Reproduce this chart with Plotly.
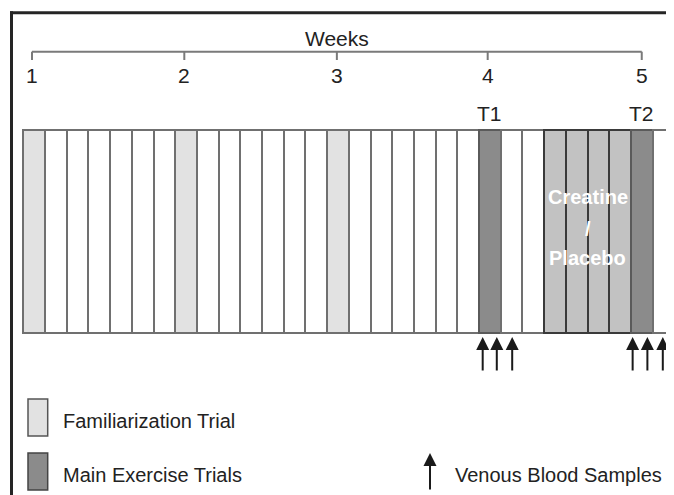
import plotly.graph_objects as go

# ---------------- data ----------------
day_types = ['F', 'R', 'R', 'R', 'R', 'R', 'R',
             'F', 'R', 'R', 'R', 'R', 'R', 'R',
             'F', 'R', 'R', 'R', 'R', 'R', 'R',
             'M', 'R', 'R', 'S', 'S', 'S', 'S',
             'M', 'R']
day_index = list(range(len(day_types)))
week_labels = ['1', '2', '3', '4', '5']
week_days = [0.4, 7.42, 14.45, 21.4, 28.5]
trial_labels = ['T1', 'T2']
trial_days = [21.5, 28.5]
sample_days = [21.17, 21.82, 22.53, 28.08, 28.76, 29.47]
supplement_span = [24, 28]
supplement_lines = ['Creatine', '/', 'Placebo']
legend_labels = ['Familiarization Trial', 'Main Exercise Trials', 'Venous Blood Samples']

# ---------------- styling ----------------
PAGE_W, PAGE_H = 674, 495
OFF = 8  # page body margin offset
W, H = PAGE_W - OFF, PAGE_H - OFF
X0_PX, CELL_PX = 23.3, 21.7


def dx(px):
    return (px - X0_PX) / CELL_PX


fill_map = {'F': '#e2e2e2', 'R': '#ffffff', 'M': '#8b8b8b', 'S': '#c2c2c2'}
line_map = {'F': '#707070', 'R': '#707070', 'M': '#5a5a5a', 'S': '#3a3a3a'}
FONT = 'Liberation Sans, Arial, Helvetica, sans-serif'
TXT = '#222222'
CELL_TOP, CELL_H = 130, 203

fig = go.Figure()
fig.add_trace(go.Bar(
    x=[i + 0.5 for i in day_index],
    y=[CELL_H] * len(day_index),
    base=[CELL_TOP] * len(day_index),
    width=1,
    marker=dict(color=[fill_map[t] for t in day_types],
                line=dict(color=[line_map[t] for t in day_types], width=2)),
    hoverinfo='skip', showlegend=False,
))

shapes = []
annotations = []

# frame (top and left edges; the rest lies outside the picture)
shapes.append(dict(type='line', xref='x', yref='y', x0=dx(10), x1=dx(PAGE_W + 40),
                   y0=12.7, y1=12.7, line=dict(color='#252525', width=3)))
shapes.append(dict(type='line', xref='x', yref='y', x0=dx(11.5), x1=dx(11.5),
                   y0=11.2, y1=PAGE_H + 40, line=dict(color='#252525', width=3)))

# weeks axis
AX_Y = 51.7
shapes.append(dict(type='line', xref='x', yref='y', x0=week_days[0], x1=week_days[-1],
                   y0=AX_Y, y1=AX_Y, line=dict(color='#7a7a7a', width=2)))
for wd, wl in zip(week_days, week_labels):
    shapes.append(dict(type='line', xref='x', yref='y', x0=wd, x1=wd,
                       y0=AX_Y, y1=60, line=dict(color='#7a7a7a', width=2)))
    annotations.append(dict(x=wd, y=75, xref='x', yref='y', text=wl, showarrow=False,
                            font=dict(family=FONT, size=21, color=TXT),
                            xanchor='center', yanchor='middle'))
annotations.append(dict(x=week_days[2], y=38, xref='x', yref='y', text='Weeks',
                        showarrow=False, font=dict(family=FONT, size=21, color=TXT),
                        xanchor='center', yanchor='middle'))

# trial labels
for td, tl in zip(trial_days, trial_labels):
    annotations.append(dict(x=td, y=113, xref='x', yref='y', text=tl, showarrow=False,
                            font=dict(family=FONT, size=21, color=TXT),
                            xanchor='center', yanchor='middle'))

# supplement text
sx = sum(supplement_span) / 2
for txt, yy in zip(supplement_lines, [197, 229, 258]):
    annotations.append(dict(x=sx, y=yy, xref='x', yref='y', text='<b>%s</b>' % txt,
                            showarrow=False,
                            font=dict(family=FONT, size=20, color='#ffffff'),
                            xanchor='center', yanchor='middle'))

# blood sample arrows
for sd in sample_days:
    annotations.append(dict(x=sd, y=337, ax=sd, ay=372, xref='x', yref='y',
                            axref='x', ayref='y', text='', showarrow=True,
                            arrowhead=2, arrowsize=1.3, arrowwidth=2,
                            arrowcolor='#1a1a1a'))

# legend
shapes.append(dict(type='rect', xref='x', yref='y', x0=dx(28), x1=dx(47.7),
                   y0=399, y1=436, fillcolor=fill_map['F'],
                   line=dict(color='#555555', width=1.5)))
shapes.append(dict(type='rect', xref='x', yref='y', x0=dx(28), x1=dx(47.7),
                   y0=453, y1=490, fillcolor=fill_map['M'],
                   line=dict(color='#444444', width=1.5)))
annotations.append(dict(x=dx(61), y=421, xref='x', yref='y', text=legend_labels[0],
                        showarrow=False, font=dict(family=FONT, size=20, color=TXT),
                        xanchor='left', yanchor='middle'))
annotations.append(dict(x=dx(61), y=475, xref='x', yref='y', text=legend_labels[1],
                        showarrow=False, font=dict(family=FONT, size=20, color=TXT),
                        xanchor='left', yanchor='middle'))
annotations.append(dict(x=dx(430), y=453, ax=dx(430), ay=491, xref='x', yref='y',
                        axref='x', ayref='y', text='', showarrow=True,
                        arrowhead=2, arrowsize=1.3, arrowwidth=2, arrowcolor='#1a1a1a'))
annotations.append(dict(x=dx(453), y=475, xref='x', yref='y', text=legend_labels[2],
                        showarrow=False, font=dict(family=FONT, size=20, color=TXT),
                        xanchor='left', yanchor='middle'))

fig.update_layout(
    width=W, height=H,
    margin=dict(l=0, r=0, t=0, b=0),
    paper_bgcolor='white', plot_bgcolor='white',
    xaxis=dict(range=[dx(OFF), dx(OFF + W)], visible=False, fixedrange=True),
    yaxis=dict(range=[OFF + H, OFF], visible=False, fixedrange=True),
    shapes=shapes, annotations=annotations,
    bargap=0, showlegend=False,
)

fig.write_html('out.html')
